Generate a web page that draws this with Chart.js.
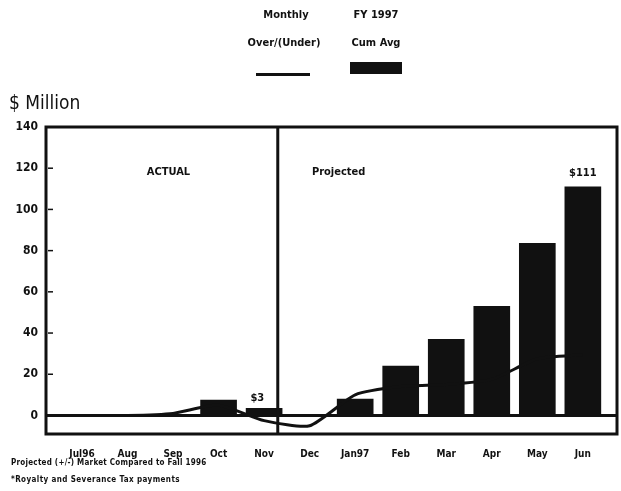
<!DOCTYPE html>
<html>
<head>
<meta charset="utf-8">
<script src="https://cdn.jsdelivr.net/npm/chart.js@4"></script>
<style>
  body { margin: 0; background: #fff; font-family: 'DejaVu Sans Condensed', 'Liberation Sans Narrow', sans-serif; }
  #wrap { position: relative; width: 621px; height: 491px; }
  canvas { position: absolute; left: 0; top: 0; }
  .t { position: absolute; color: #111; font-weight: bold; white-space: nowrap; }
  .c { transform: translateX(-50%); text-align: center; }
</style>
</head>
<body>
<div id="wrap">
  <canvas id="chart" width="621" height="491"></canvas>
  <div class="t c" style="left:286px;top:8px;font-size:11px;">Monthly</div>
  <div class="t c" style="left:376px;top:8px;font-size:11px;">FY 1997</div>
  <div class="t c" style="left:284px;top:36px;font-size:11px;">Over/(Under)</div>
  <div class="t c" style="left:376px;top:36px;font-size:11px;">Cum Avg</div>
  <div style="position:absolute;left:256px;top:73px;width:54px;height:3px;background:#111;"></div>
  <div style="position:absolute;left:350px;top:62px;width:52px;height:12px;background:#111;"></div>
  <div class="t" style="left:9px;top:91px;font-size:19px;font-weight:normal;">$ Million</div>
  <div class="t" style="left:11px;top:458px;font-size:8px;letter-spacing:0.25px;">Projected (+/-) Market Compared to Fall 1996</div>
  <div class="t" style="left:11px;top:475px;font-size:8px;letter-spacing:0.4px;">*Royalty and Severance Tax payments</div>
</div>
<script>
// tick labels and values
const months = ['Jul96', 'Aug', 'Sep', 'Oct', 'Nov', 'Dec', 'Jan97', 'Feb', 'Mar', 'Apr', 'May', 'Jun'];
const cumAvg = [null, null, null, 7.5, 3.5, null, 8, 24, 37, 53, 83.5, 111];
const monthly = [0, 0, 1, 5, -2.5, -5, 10, 14, 15, 17.5, 27.5, 29.5];
const yTicks = [0, 20, 40, 60, 80, 100, 120, 140];
const dividerAt = 4.3;

const FONT = "'DejaVu Sans Condensed', 'Liberation Sans Narrow', sans-serif";

const framePlugin = {
  id: 'frame',
  afterDatasetsDraw(chart) {
    const { ctx, chartArea: a, scales: { x, y } } = chart;
    ctx.save();
    ctx.strokeStyle = '#111';
    ctx.fillStyle = '#111';
    // zero line
    ctx.lineWidth = 3;
    const y0 = y.getPixelForValue(0);
    ctx.beginPath(); ctx.moveTo(a.left, y0); ctx.lineTo(a.right, y0); ctx.stroke();
    // actual / projected divider
    const xd = x.getPixelForValue(dividerAt);
    ctx.beginPath(); ctx.moveTo(xd, a.top); ctx.lineTo(xd, a.bottom); ctx.stroke();
    // box
    ctx.strokeRect(a.left, a.top, a.right - a.left, a.bottom - a.top);
    // small ticks inside left edge
    ctx.lineWidth = 1.5;
    yTicks.slice(1, -1).forEach(v => {
      const py = y.getPixelForValue(v);
      ctx.beginPath(); ctx.moveTo(a.left + 2, py); ctx.lineTo(a.left + 7, py); ctx.stroke();
    });
    // labels
    ctx.font = 'bold 11px ' + FONT;
    ctx.textBaseline = 'middle';
    ctx.textAlign = 'center';
    ctx.fillText('ACTUAL', x.getPixelForValue(1.9), y.getPixelForValue(118));
    ctx.textAlign = 'left';
    ctx.fillText('Projected', x.getPixelForValue(5.05), y.getPixelForValue(118));
    ctx.textAlign = 'center';
    ctx.fillText('$111', x.getPixelForValue(11), y.getPixelForValue(cumAvg[11]) - 14);
    ctx.fillText('$3', x.getPixelForValue(3.85), y.getPixelForValue(cumAvg[4]) - 10);
    ctx.restore();
  }
};

new Chart(document.getElementById('chart'), {
  data: {
    datasets: [
      {
        type: 'line',
        label: 'Monthly Over/(Under)',
        data: monthly.map((v, i) => ({ x: i, y: v })),
        borderColor: '#111',
        borderWidth: 3,
        pointRadius: 0,
        tension: 0.2
      },
      {
        type: 'bar',
        label: 'FY 1997 Cum Avg',
        data: cumAvg.map((v, i) => ({ x: i, y: v })),
        backgroundColor: '#111',
        barThickness: 36
      }
    ]
  },
  options: {
    responsive: false,
    animation: false,
    layout: { padding: { top: 127, right: 4, left: 0, bottom: 0 } },
    plugins: { legend: { display: false }, tooltip: { enabled: false } },
    scales: {
      x: {
        type: 'linear',
        offset: false,
        min: -0.79,
        max: 11.75,
        grid: { display: false },
        border: { display: false },
        afterBuildTicks: s => { s.ticks = months.map((m, i) => ({ value: i })); },
        afterFit: s => { s.height = 57; },
        ticks: {
          padding: 6,
          color: '#111',
          maxRotation: 0,
          autoSkip: false,
          font: { family: FONT, size: 10, weight: 'bold' },
          callback: v => months[v]
        }
      },
      y: {
        min: -9,
        max: 140,
        grid: { display: false },
        border: { display: false },
        afterBuildTicks: s => { s.ticks = yTicks.map(v => ({ value: v })); },
        afterFit: s => { s.width = 46; },
        ticks: {
          padding: 0,
          color: '#111',
          font: { family: FONT, size: 12, weight: 'bold' }
        }
      }
    }
  },
  plugins: [framePlugin]
});
</script>
</body>
</html>
